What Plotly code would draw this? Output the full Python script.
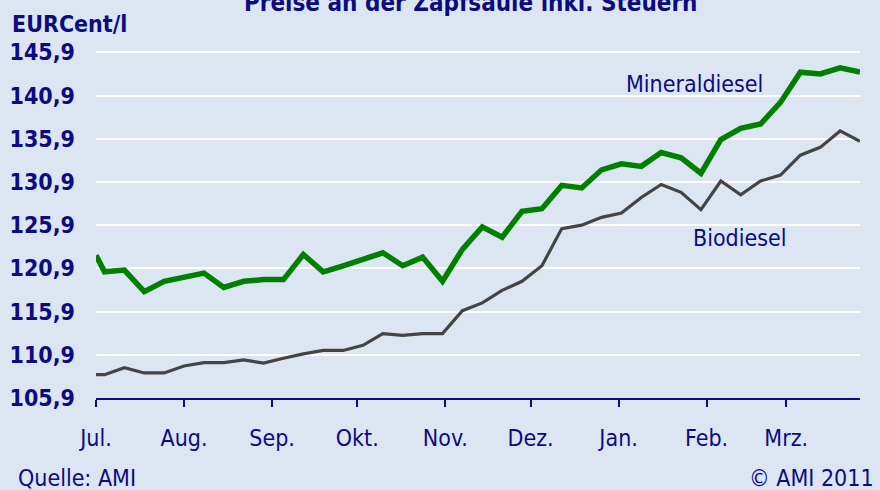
import pandas as pd
import plotly.graph_objects as go

# ---- data ----
dates = ["2010-07-01"] + [d.strftime("%Y-%m-%d") for d in pd.date_range("2010-07-04", periods=39, freq="7D")]

mineraldiesel = [122.4,
                 120.5, 120.7, 118.2, 119.4, 119.9, 120.35, 118.7, 119.4, 119.6, 119.6,
                 122.5, 120.5, 121.2, 122.0, 122.7, 121.2, 122.2, 119.4, 123.1, 125.7,
                 124.5, 127.5, 127.8, 130.5, 130.2, 132.3, 133.0, 132.7, 134.3, 133.7,
                 131.9, 135.8, 137.1, 137.6, 140.1, 143.6, 143.4, 144.1, 143.6]

biodiesel = [108.6,
             108.6, 109.4, 108.8, 108.8, 109.6, 110.0, 110.0, 110.3, 109.95, 110.5,
             111.0, 111.4, 111.4, 112.0, 113.35, 113.15, 113.35, 113.35, 116.0, 116.9,
             118.35, 119.4, 121.2, 125.5, 125.9, 126.8, 127.3, 129.1, 130.6, 129.7,
             127.7, 131.0, 129.4, 131.0, 131.7, 134.0, 134.9, 136.8, 135.6]

month_ticks = ["2010-07-01", "2010-08-01", "2010-09-01", "2010-10-01", "2010-11-01",
               "2010-12-01", "2011-01-01", "2011-02-01", "2011-03-01"]
month_labels = ["Jul.", "Aug.", "Sep.", "Okt.", "Nov.", "Dez.", "Jan.", "Feb.", "Mrz."]

y_ticks = [105.9, 110.9, 115.9, 120.9, 125.9, 130.9, 135.9, 140.9, 145.9]
y_labels = ["105,9", "110,9", "115,9", "120,9", "125,9", "130,9", "135,9", "140,9", "145,9"]

# ---- style ----
BG = "#dce6f2"
NAVY = "#0c0c80"
FONT = "DejaVu Sans Condensed, Liberation Sans Narrow, DejaVu Sans, sans-serif"

fig = go.Figure()
fig.add_trace(go.Scatter(x=dates, y=biodiesel, mode="lines",
                         line=dict(color="#444444", width=3.2), name="Biodiesel"))
fig.add_trace(go.Scatter(x=dates, y=mineraldiesel, mode="lines",
                         line=dict(color="#008000", width=5.5), name="Mineraldiesel"))

fig.update_layout(
    width=880, height=490,
    margin=dict(l=96, r=20, t=35, b=92),
    paper_bgcolor=BG, plot_bgcolor=BG,
    showlegend=False,
    font=dict(family=FONT, color=NAVY, size=23),
)

fig.update_xaxes(
    type="date", range=["2010-07-01", "2011-03-27"],
    tickvals=month_ticks, ticktext=month_labels,
    showgrid=False, zeroline=False, automargin=False,
    showline=True, linecolor=NAVY, linewidth=2,
    ticks="outside", ticklen=7, tickwidth=2, tickcolor=NAVY,
    tickfont=dict(family=FONT, size=23, color=NAVY),
    ticklabelstandoff=11,
)
fig.update_yaxes(
    range=[105.9, 147.9],
    tickvals=y_ticks, ticktext=y_labels,
    showgrid=True, gridcolor="white", gridwidth=2,
    zeroline=False, showline=False, ticks="", automargin=False,
    tickfont=dict(family=FONT, size=23, color=NAVY, weight="bold"),
    ticklabelstandoff=20,
)

annos = [
    dict(text="Preise an der Zapfsäule inkl. Steuern", x=(470 - 96) / 764, y=(398 - 3) / 363,
         xanchor="center", yanchor="middle", font=dict(size=24, weight="bold")),
    dict(text="EURCent/l", x=(10 - 96) / 764, y=(398 - 24.5) / 363,
         xanchor="left", yanchor="middle", font=dict(size=23, weight="bold")),
    dict(text="Mineraldiesel", x=(624 - 96) / 764, y=(398 - 84) / 363,
         xanchor="left", yanchor="middle", font=dict(size=23)),
    dict(text="Biodiesel", x=(691 - 96) / 764, y=(398 - 238) / 363,
         xanchor="left", yanchor="middle", font=dict(size=23)),
    dict(text="Quelle: AMI", x=(16 - 96) / 764, y=(398 - 478) / 363,
         xanchor="left", yanchor="middle", font=dict(size=23)),
    dict(text="© AMI 2011", x=(876 - 96) / 764, y=(398 - 478) / 363,
         xanchor="right", yanchor="middle", font=dict(size=23)),
]
for a in annos:
    a.update(xref="paper", yref="paper", showarrow=False)
    a["font"].update(family=FONT, color=NAVY)
    fig.add_annotation(**a)

fig.write_html(
    "out.html",
    config={"displayModeBar": False},
    post_script="document.body.style.margin='0';document.body.style.background='" + BG + "';",
)
